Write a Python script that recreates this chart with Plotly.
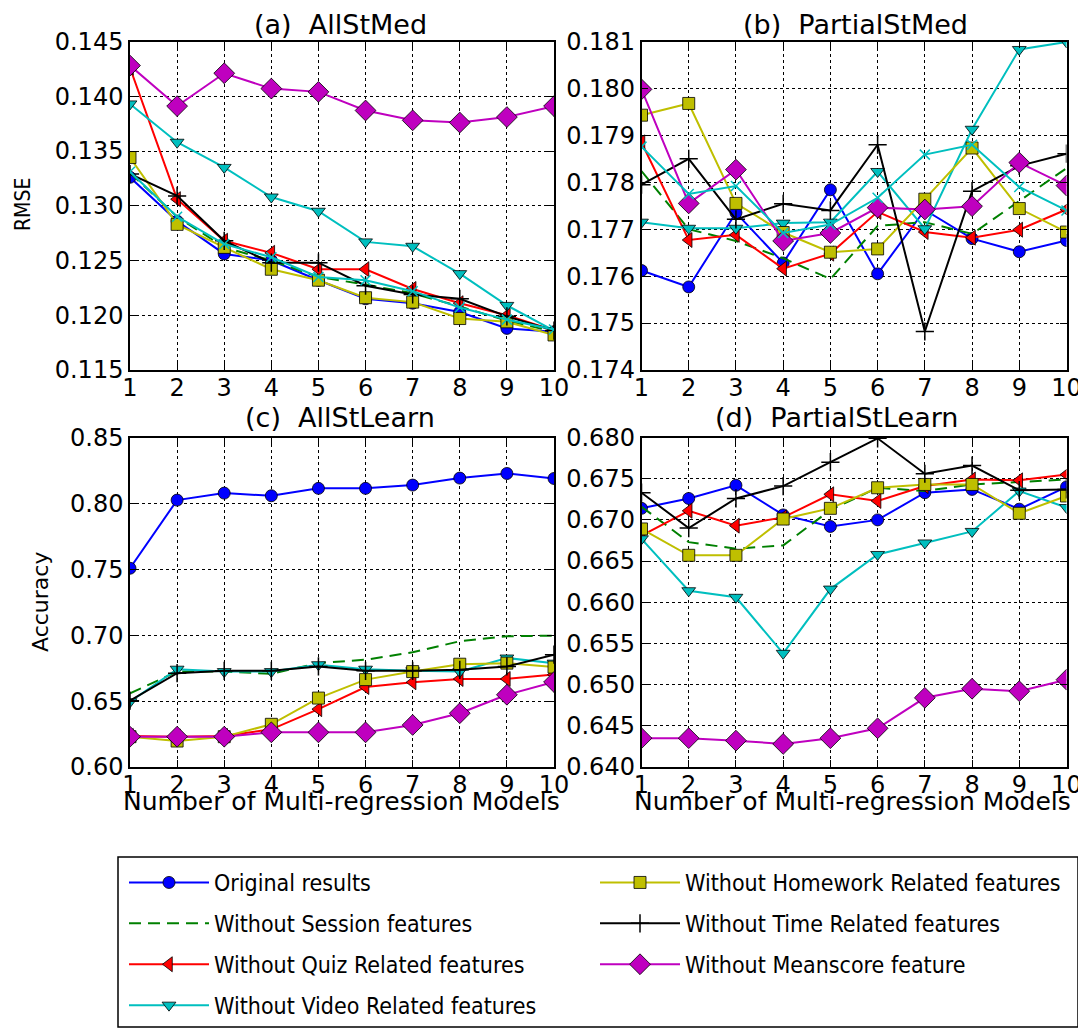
import plotly.graph_objects as go

x_models = list(range(1, 11))

series_names = [
    "Original results",
    "Without Session features",
    "Without Quiz Related features",
    "Without Video Related features",
    "Without Homework Related features",
    "Without Time Related features",
    "Without Meanscore feature",
]

# (a) AllStMed  (RMSE)
a_original = [0.1326, 0.1286, 0.1256, 0.1250, 0.1232, 0.1215, 0.1211, 0.1203, 0.1188, 0.1185]
a_session = [0.1330, 0.1290, 0.1262, 0.1250, 0.1235, 0.1228, 0.1220, 0.1208, 0.1195, 0.1185]
a_quiz = [0.1426, 0.1306, 0.1268, 0.1257, 0.1242, 0.1242, 0.1224, 0.1211, 0.1200, 0.1186]
a_video = [0.1393, 0.1358, 0.1335, 0.1308, 0.1295, 0.1267, 0.1263, 0.1238, 0.1209, 0.1186]
a_homework = [0.1344, 0.1283, 0.1262, 0.1242, 0.1232, 0.1216, 0.1212, 0.1197, 0.1194, 0.1182]
a_time = [0.1329, 0.1309, 0.1268, 0.1248, 0.1248, 0.1227, 0.1219, 0.1215, 0.1199, 0.1186]
a_meanscore = [0.1428, 0.1391, 0.1421, 0.1407, 0.1404, 0.1387, 0.1378, 0.1376, 0.1381, 0.1391]
a_extra = [0.1331, 0.1290, 0.1265, 0.1253, 0.1235, 0.1232, 0.1222, 0.1207, 0.1196, 0.1187]

# (b) PartialStMed  (RMSE)
b_original = [0.17612, 0.17577, 0.17735, 0.17628, 0.17784, 0.17605, 0.17741, 0.17680, 0.17652, 0.17676]
b_session = [0.17824, 0.17700, 0.17675, 0.17638, 0.17594, 0.17707, 0.17715, 0.17690, 0.17760, 0.17830]
b_quiz = [0.17885, 0.17677, 0.17688, 0.17616, 0.17648, 0.17737, 0.17694, 0.17682, 0.17699, 0.17742]
b_video = [0.17715, 0.17702, 0.17702, 0.17713, 0.17715, 0.17823, 0.17701, 0.17913, 0.18083, 0.18099]
b_homework = [0.17943, 0.17968, 0.17755, 0.17693, 0.17651, 0.17658, 0.17764, 0.17873, 0.17744, 0.17694]
b_time = [0.17795, 0.17850, 0.17721, 0.17754, 0.17740, 0.17880, 0.17482, 0.17781, 0.17835, 0.17861]
b_meanscore = [0.17998, 0.17755, 0.17827, 0.17675, 0.17692, 0.17746, 0.17742, 0.17749, 0.17842, 0.17793]
b_extra = [0.17876, 0.17775, 0.17792, 0.17692, 0.17710, 0.17767, 0.17859, 0.17880, 0.17790, 0.17740]

# (c) AllStLearn  (Accuracy)
c_original = [0.7508, 0.8025, 0.8078, 0.8058, 0.8114, 0.8114, 0.8139, 0.8192, 0.8227, 0.8189]
c_session = [0.6559, 0.6724, 0.6724, 0.6707, 0.6788, 0.6814, 0.6870, 0.6954, 0.6992, 0.6997]
c_quiz = [0.6235, 0.6230, 0.6235, 0.6286, 0.6439, 0.6607, 0.6643, 0.6668, 0.6668, 0.6701]
c_video = [0.6495, 0.6742, 0.6724, 0.6724, 0.6776, 0.6742, 0.6730, 0.6724, 0.6827, 0.6788]
c_homework = [0.6230, 0.6197, 0.6230, 0.6324, 0.6523, 0.6663, 0.6724, 0.6780, 0.6788, 0.6758]
c_time = [0.6503, 0.6712, 0.6730, 0.6730, 0.6763, 0.6730, 0.6730, 0.6737, 0.6763, 0.6852]
c_meanscore = [0.6230, 0.6230, 0.6230, 0.6263, 0.6263, 0.6263, 0.6319, 0.6408, 0.6548, 0.6645]

# (d) PartialStLearn  (Accuracy)
d_original = [0.6714, 0.6726, 0.6742, 0.6706, 0.6692, 0.6700, 0.6733, 0.6737, 0.6713, 0.6740]
d_session = [0.6716, 0.6673, 0.6665, 0.6669, 0.6712, 0.6739, 0.6735, 0.6743, 0.6746, 0.6749]
d_quiz = [0.6681, 0.6711, 0.6693, 0.6703, 0.6731, 0.6723, 0.6741, 0.6749, 0.6748, 0.6755]
d_video = [0.6677, 0.6614, 0.6606, 0.6538, 0.6616, 0.6658, 0.6672, 0.6686, 0.6735, 0.6715]
d_homework = [0.6689, 0.6657, 0.6657, 0.6701, 0.6714, 0.6739, 0.6743, 0.6743, 0.6708, 0.6729]
d_time = [0.6733, 0.6690, 0.6726, 0.6741, 0.6770, 0.6799, 0.6756, 0.6766, 0.6736, 0.6737]
d_meanscore = [0.6435, 0.6435, 0.6432, 0.6428, 0.6435, 0.6447, 0.6484, 0.6495, 0.6492, 0.6506]

panel_titles = ["(a)\u00a0 AllStMed", "(b)\u00a0 PartialStMed", "(c)\u00a0 AllStLearn", "(d)\u00a0 PartialStLearn"]
y_ranges = [(0.115, 0.145), (0.174, 0.181), (0.60, 0.85), (0.640, 0.680)]
y_dticks = [0.005, 0.001, 0.05, 0.005]
y_formats = [".3f", ".3f", ".2f", ".3f"]

panels = [
    [a_original, a_session, a_quiz, a_video, a_homework, a_time, a_meanscore, a_extra],
    [b_original, b_session, b_quiz, b_video, b_homework, b_time, b_meanscore, b_extra],
    [c_original, c_session, c_quiz, c_video, c_homework, c_time, c_meanscore, None],
    [d_original, d_session, d_quiz, d_video, d_homework, d_time, d_meanscore, None],
]

styles = [
    dict(color="#0000ff", symbol="circle", size=12, dash="solid", mode="lines+markers"),
    dict(color="#008000", symbol="circle", size=1, dash="12px,7px", mode="lines"),
    dict(color="#ff0000", symbol="triangle-left", size=13, dash="solid", mode="lines+markers"),
    dict(color="#00bfbf", symbol="triangle-down", size=12, dash="solid", mode="lines+markers"),
    dict(color="#bfbf00", symbol="square", size=12, dash="solid", mode="lines+markers"),
    dict(color="#000000", symbol="cross-thin", size=13, dash="solid", mode="lines+markers"),
    dict(color="#bf00bf", symbol="diamond", size=16, dash="solid", mode="lines+markers"),
    dict(color="#00bfbf", symbol="x-thin", size=10, dash="solid", mode="lines+markers"),
]
legend_cols = ["legend", "legend", "legend", "legend", "legend2", "legend2", "legend2"]

# The page body has an 8px margin: the figure is drawn 8px right and down.
OFF = 8
W, H = 1086 - OFF, 1030 - OFF


def px(xp):
    return (xp - OFF) / W


def py(yp):
    return 1 - (yp - OFF) / H


x_doms = [(px(130), px(554)), (px(641.5), px(1066.5))]
y_doms = [(py(370), py(41.5)), (py(767), py(437.5))]

fig = go.Figure()
FONT = "DejaVu Sans"
CFONT = "DejaVu Sans Condensed"

for p, data in enumerate(panels):
    ax = "" if p == 0 else str(p + 1)
    for i, vals in enumerate(data):
        if vals is None:
            continue
        st = styles[i]
        thin = st["symbol"] in ("cross-thin", "x-thin")
        marker = dict(
            symbol=st["symbol"], size=st["size"], color=st["color"],
            line=dict(color=st["color"] if thin else "#000000", width=1.5 if thin else 0.8),
        )
        fig.add_trace(go.Scatter(
            x=x_models, y=vals, mode=st["mode"],
            name=series_names[i] if i < len(series_names) else "extra",
            line=dict(color=st["color"], width=2, dash=st["dash"]),
            marker=marker,
            xaxis="x" + ax, yaxis="y" + ax,
            showlegend=(p == 0 and i < 7),
            legend=legend_cols[i] if i < 7 else "legend",
            legendgroup="g%d" % i,
        ))

axis_common = dict(
    showline=True, linecolor="#000000", linewidth=1.5, mirror="ticks",
    ticks="inside", ticklen=7, tickcolor="#000000", tickwidth=1,
    showgrid=True, gridcolor="#000000", gridwidth=1, griddash="dot",
    zeroline=False, automargin=False,
    tickfont=dict(family=FONT, size=24, color="#000000"),
)

layout_axes = {}
for p in range(4):
    ax = "" if p == 0 else str(p + 1)
    col = p % 2
    row = p // 2
    layout_axes["xaxis" + ax] = dict(
        axis_common, domain=x_doms[col], range=[1, 10], dtick=1, tick0=1,
        anchor="y" + ax, ticklabelstandoff=-5,
    )
    layout_axes["yaxis" + ax] = dict(
        axis_common, domain=y_doms[row], range=list(y_ranges[p]), dtick=y_dticks[p],
        tick0=y_ranges[p][0], tickformat=y_formats[p], anchor="x" + ax,
    )

annotations = []
title_pos = [(340, 8, "top"), (855, 8, "top"), (340, 418, "middle"), (836, 418, "middle")]
for p in range(4):
    tx, ty, anc = title_pos[p]
    annotations.append(dict(
        text=panel_titles[p], x=px(tx), y=py(ty),
        xref="paper", yref="paper", showarrow=False, xanchor="center", yanchor=anc,
        borderpad=0, font=dict(family=FONT, size=27, color="#000000"),
    ))
annotations.append(dict(text="RMSE", x=px(23), y=py(205), xref="paper", yref="paper",
                        showarrow=False, textangle=-90, xanchor="center", yanchor="middle",
                        font=dict(family=CFONT, size=21, color="#000000")))
annotations.append(dict(text="Accuracy", x=px(40), y=py(602), xref="paper", yref="paper",
                        showarrow=False, textangle=-90, xanchor="center", yanchor="middle",
                        font=dict(family=FONT, size=22, color="#000000")))
for cx in (341, 852):
    annotations.append(dict(text="Number of Multi-regression Models", x=px(cx), y=py(801),
                            xref="paper", yref="paper", showarrow=False,
                            xanchor="center", yanchor="middle", borderpad=0,
                            font=dict(family=FONT, size=25, color="#000000")))

legend_common = dict(
    orientation="v", xanchor="left", yanchor="top",
    itemwidth=80, traceorder="grouped", tracegroupgap=8,
    bgcolor="rgba(0,0,0,0)", borderwidth=0,
    font=dict(family=CFONT, size=23, color="#000000"),
)

fig.update_layout(
    width=W, height=H,
    margin=dict(l=0, r=0, t=0, b=0),
    paper_bgcolor="#ffffff", plot_bgcolor="#ffffff",
    showlegend=True,
    legend=dict(legend_common, x=px(124), y=py(861)),
    legend2=dict(legend_common, x=px(595), y=py(861)),
    annotations=annotations,
    shapes=[dict(type="rect", xref="paper", yref="paper",
                 x0=px(118), x1=px(1078), y0=py(1027), y1=py(857),
                 line=dict(color="#000000", width=1.5), fillcolor="rgba(0,0,0,0)")],
    **layout_axes,
)

fig.write_html("out.html")
